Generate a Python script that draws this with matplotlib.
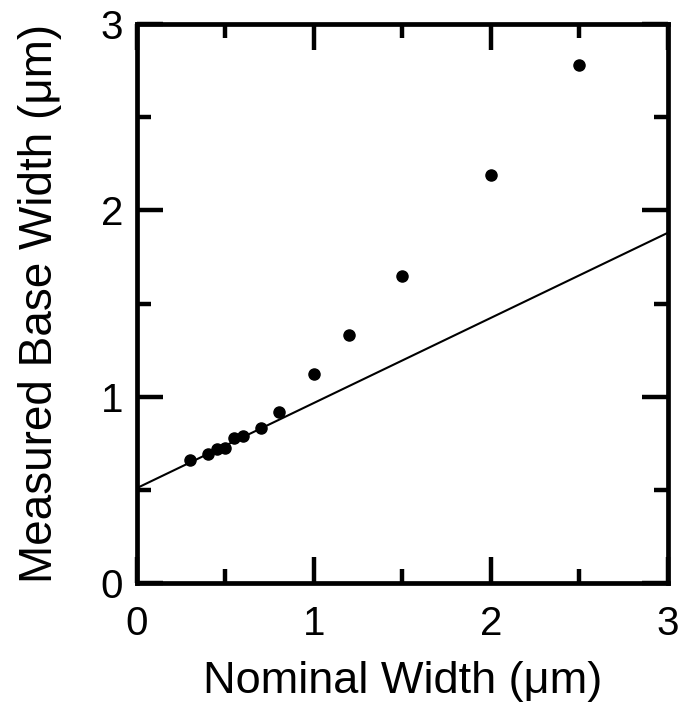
import matplotlib.pyplot as plt
from matplotlib.ticker import MultipleLocator

nominal = [0.30, 0.40, 0.45, 0.50, 0.55, 0.60, 0.70, 0.80, 1.0, 1.2, 1.5, 2.0, 2.5]
measured = [0.66, 0.69, 0.72, 0.725, 0.78, 0.79, 0.83, 0.92, 1.12, 1.33, 1.65, 2.19, 2.78]

# Reference line endpoints
line_x = [0, 3]
line_y = [0.51, 1.88]

plt.rcParams["font.family"] = ["Liberation Sans", "DejaVu Sans"]

fig = plt.figure(figsize=(6.8, 7.11), dpi=100)
ax = fig.add_axes([0.2015, 0.18, 0.7805, 0.786])

ax.plot(line_x, line_y, color="black", linewidth=1.5)
ax.plot(nominal, measured, "o", color="black", markersize=8, clip_on=False)

ax.set_xlim(0, 3)
ax.set_ylim(0, 3)
ax.xaxis.set_major_locator(MultipleLocator(1))
ax.yaxis.set_major_locator(MultipleLocator(1))
ax.xaxis.set_minor_locator(MultipleLocator(0.5))
ax.yaxis.set_minor_locator(MultipleLocator(0.5))
ax.tick_params(which="both", direction="in", top=True, right=True, width=3.2)
ax.tick_params(which="major", length=19, labelsize=29)
ax.tick_params(which="minor", length=10)
ax.tick_params(axis="x", which="major", pad=16)
ax.tick_params(axis="y", which="major", pad=10)
for s in ax.spines.values():
    s.set_linewidth(3.4)

ax.set_xlabel("Nominal Width (\u03bcm)", fontsize=32.5, labelpad=13)
ax.set_ylabel("Measured Base Width (\u03bcm)", fontsize=33, labelpad=28)

fig.savefig("out.png", dpi=100)
